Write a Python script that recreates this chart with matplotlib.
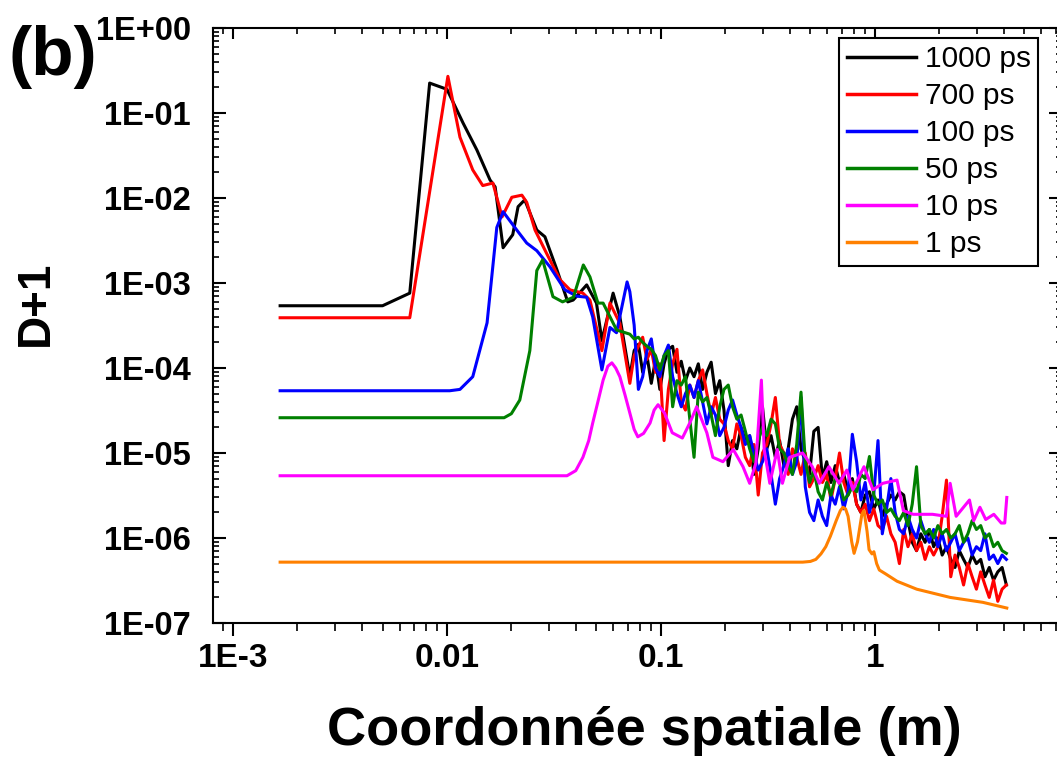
import matplotlib
matplotlib.use('Agg')
import matplotlib.pyplot as plt
from matplotlib.ticker import LogLocator, NullFormatter, FixedLocator, FixedFormatter

# ---------------- data ----------------
series_labels = ['1000 ps', '700 ps', '100 ps', '50 ps', '10 ps', '1 ps']
series_colors = ['#000000', '#ff0000', '#0000ff', '#008000', '#ff00ff', '#ff8000']

# common spatial grid of the noisy tail (0.07 m -> 4.1 m)
tail_x = [0.0716, 0.0750, 0.0785, 0.0822, 0.0861, 0.0902, 0.0944, 0.0989, 0.1035, 0.1084,
          0.1135, 0.1189, 0.1245, 0.1303, 0.1365, 0.1429, 0.1496, 0.1567, 0.1641, 0.1718,
          0.1799, 0.1884, 0.1972, 0.2065, 0.2163, 0.2265, 0.2371, 0.2483, 0.2600, 0.2723,
          0.2851, 0.2985, 0.3126, 0.3273, 0.3428, 0.3589, 0.3758, 0.3936, 0.4121, 0.4315,
          0.4519, 0.4732, 0.4955, 0.5188, 0.5433, 0.5689, 0.5957, 0.6237, 0.6531, 0.6839,
          0.7161, 0.7499, 0.7852, 0.8222, 0.8610, 0.9016, 0.9441, 0.9886, 1.035, 1.084,
          1.135, 1.189, 1.245, 1.303, 1.365, 1.429, 1.496, 1.567, 1.641, 1.718,
          1.799, 1.884, 1.972, 2.065, 2.163, 2.265, 2.371, 2.483, 2.600, 2.723,
          2.851, 2.985, 3.126, 3.273, 3.428, 3.589, 3.758, 3.936, 4.121]

black_head_x = [1.66e-3, 5.0e-3, 6.7e-3, 8.3e-3, 0.0100, 0.0119, 0.0138, 0.0159, 0.0168, 0.0183,
                0.0203, 0.0215, 0.0231, 0.0263, 0.0287, 0.0327, 0.0367, 0.0389, 0.045, 0.050,
                0.053, 0.0598, 0.0643]
black_head_y = [5.4e-4, 5.4e-4, 7.6e-4, 0.225, 0.19, 0.076, 0.0367, 0.0163, 0.0135, 2.6e-3,
                3.7e-3, 7.9e-3, 9.5e-3, 4.2e-3, 3.5e-3, 1.42e-3, 6.0e-4, 6.3e-4, 9.5e-4, 5.8e-4,
                2.1e-4, 7.6e-4, 4.0e-4]
black_tail_y = [7.9e-5, 1.6e-4, 1.9e-4, 8.9e-5, 1.4e-4, 6.6e-5, 1.26e-4, 5.6e-5, 1.12e-4, 1.66e-4,
                1.8e-4, 8.9e-5, 1.2e-4, 7.1e-5, 1.0e-4, 7.9e-5, 1.12e-4, 5.6e-5, 8.9e-5, 1.17e-4,
                5.0e-5, 7.1e-5, 3.2e-5, 7.1e-6, 1.4e-5, 1.12e-5, 2.0e-5, 1.4e-5, 1.6e-5, 5.6e-6,
                1.12e-5, 3.5e-5, 1.12e-5, 1.6e-5, 8.9e-6, 1.4e-5, 7.1e-6, 1.12e-5, 2.5e-5, 3.5e-5,
                1.12e-5, 7.9e-6, 5.6e-6, 1.8e-5, 2.0e-5, 5.0e-6, 7.9e-6, 4.5e-6, 7.1e-6, 4.5e-6,
                5.6e-6, 3.5e-6, 5.0e-6, 2.5e-6, 2.0e-6, 3.2e-6, 3.5e-6, 2.2e-6, 2.8e-6, 1.8e-6,
                2.5e-6, 3.2e-6, 2.8e-6, 3.5e-6, 3.2e-6, 1.6e-6, 8.9e-7, 7.1e-7, 1.12e-6, 8.9e-7,
                1.26e-6, 7.9e-7, 1.0e-6, 6.3e-7, 7.9e-7, 5.6e-7, 4.5e-7, 7.1e-7, 5.6e-7, 4.5e-7,
                6.3e-7, 5.0e-7, 5.6e-7, 3.5e-7, 4.5e-7, 3.2e-7, 4.0e-7, 4.5e-7, 2.8e-7]

red_head_x = [1.66e-3, 6.7e-3, 0.0101, 0.0115, 0.0132, 0.0147, 0.0164, 0.0181, 0.0201, 0.0224,
              0.0236, 0.0258, 0.0293, 0.0337, 0.0376, 0.0432, 0.0466, 0.053, 0.0578, 0.0643]
red_head_y = [3.9e-4, 3.9e-4, 0.27, 0.052, 0.0214, 0.014, 0.015, 6.0e-3, 0.0102, 0.0108,
              8.9e-3, 4.2e-3, 2.2e-3, 1.1e-3, 8.3e-4, 7.6e-4, 6.3e-4, 1.6e-4, 5.8e-4, 3.35e-4]
red_tail_y = [6.6e-5, 1.4e-4, 1.8e-4, 2.3e-4, 1.26e-4, 1.66e-4, 8.9e-5, 1.12e-4, 1.4e-5, 5.6e-5,
              1.12e-4, 1.66e-4, 4.0e-5, 3.2e-5, 6.3e-5, 4.5e-5, 7.1e-5, 9.5e-5, 5.0e-5, 2.8e-5,
              4.5e-5, 2.5e-5, 2.2e-5, 1.4e-5, 1.12e-5, 2.2e-5, 1.6e-5, 8.9e-6, 7.1e-6, 1.26e-5,
              3.2e-6, 1.0e-5, 1.26e-5, 2.2e-5, 4.5e-5, 1.26e-5, 1.0e-5, 5.6e-6, 1.12e-5, 8.9e-6,
              5.6e-6, 1.0e-5, 4.0e-6, 5.0e-6, 7.1e-6, 4.5e-6, 5.6e-6, 2.8e-6, 5.0e-6, 1.0e-5,
              4.5e-6, 3.2e-6, 4.5e-6, 2.5e-6, 2.0e-6, 2.5e-6, 1.6e-6, 2.2e-6, 1.4e-6, 1.26e-6,
              1.8e-6, 1.12e-6, 8.9e-7, 5.0e-7, 1.26e-6, 7.9e-7, 1.12e-6, 7.1e-7, 8.9e-7, 5.6e-7,
              7.9e-7, 6.3e-7, 7.9e-7, 1.8e-6, 4.8e-6, 3.5e-7, 6.3e-7, 4.5e-7, 2.8e-7, 5.0e-7,
              3.5e-7, 2.5e-7, 4.0e-7, 2.8e-7, 2.0e-7, 3.2e-7, 1.8e-7, 2.5e-7, 2.8e-7]

blue_head_x = [1.66e-3, 0.0103, 0.0115, 0.0132, 0.0154, 0.0171, 0.0183, 0.0212, 0.0236, 0.0263,
               0.0303, 0.0356, 0.0405, 0.045, 0.048, 0.053, 0.0578, 0.062, 0.0695]
blue_head_y = [5.4e-5, 5.4e-5, 5.6e-5, 7.9e-5, 3.4e-4, 4.5e-3, 6.9e-3, 4.2e-3, 2.95e-3, 2.4e-3,
               1.55e-3, 8.3e-4, 7.0e-4, 6.8e-4, 4.0e-4, 9.5e-5, 3.0e-4, 2.6e-4, 1.03e-3]
blue_tail_y = [7.9e-4, 3.2e-4, 5.6e-5, 7.9e-5, 1.6e-4, 2.2e-4, 1.0e-4, 7.9e-5, 1.4e-4, 1.86e-4,
               7.9e-5, 5.0e-5, 3.5e-5, 5.0e-5, 6.3e-5, 4.5e-5, 7.1e-5, 4.0e-5, 2.2e-5, 3.5e-5,
               2.8e-5, 1.6e-5, 2.0e-5, 3.2e-5, 4.2e-5, 2.8e-5, 2.0e-5, 1.26e-5, 1.6e-5, 1.0e-5,
               6.3e-6, 7.9e-6, 1.12e-5, 5.6e-6, 2.5e-6, 5.0e-6, 7.1e-6, 1.12e-5, 5.6e-6, 7.9e-6,
               4.5e-5, 4.0e-6, 2.0e-6, 1.6e-6, 2.8e-6, 1.8e-6, 1.4e-6, 3.2e-6, 2.5e-6, 4.0e-6,
               2.2e-6, 3.5e-6, 1.66e-5, 7.9e-6, 2.8e-6, 4.5e-6, 2.0e-6, 3.2e-6, 1.4e-5, 1.12e-6,
               2.2e-6, 5.0e-6, 2.0e-6, 1.26e-6, 1.12e-6, 1.8e-6, 1.26e-6, 1.0e-6, 1.6e-6, 1.12e-6,
               8.9e-7, 1.26e-6, 7.9e-7, 1.12e-6, 7.1e-7, 8.9e-7, 1.12e-6, 7.1e-7, 8.9e-7, 1.0e-6,
               6.3e-7, 7.9e-7, 7.1e-7, 1.12e-6, 5.6e-7, 6.3e-7, 5.0e-7, 6.3e-7, 5.6e-7]

green_head_x = [1.66e-3, 0.0185, 0.0200, 0.0219, 0.0244, 0.0263, 0.0280, 0.0313, 0.0347, 0.0390,
                0.0434, 0.0466, 0.0508, 0.0537, 0.0621]
green_head_y = [2.6e-5, 2.6e-5, 2.9e-5, 4.2e-5, 1.6e-4, 1.4e-3, 1.87e-3, 6.9e-4, 6.0e-4, 6.8e-4,
                1.63e-3, 1.18e-3, 5.8e-4, 5.8e-4, 2.8e-4]
green_tail_y = [2.5e-4, 2.2e-4, 2.3e-4, 2.0e-4, 1.8e-4, 1.66e-4, 1.4e-4, 9.5e-5, 1.4e-4, 1.6e-4,
                3.5e-5, 7.1e-5, 6.3e-5, 7.9e-5, 2.5e-5, 8.9e-6, 5.2e-5, 4.0e-5, 4.5e-5, 2.8e-5,
                1.6e-5, 3.5e-5, 5.6e-5, 6.3e-5, 3.5e-5, 2.5e-5, 2.8e-5, 1.8e-5, 1.12e-5, 7.9e-6,
                1.4e-5, 2.0e-5, 1.6e-5, 2.5e-5, 2.2e-5, 1.12e-5, 1.0e-5, 7.1e-6, 5.6e-6, 1.26e-5,
                5.2e-5, 7.9e-6, 4.5e-6, 6.3e-6, 3.5e-6, 2.8e-6, 4.5e-6, 3.2e-6, 5.0e-6, 4.5e-6,
                2.8e-6, 3.2e-6, 4.0e-6, 3.5e-6, 5.6e-6, 5.0e-6, 9.1e-6, 3.2e-6, 2.5e-6, 2.8e-6,
                2.0e-6, 2.2e-6, 1.8e-6, 1.6e-6, 2.0e-6, 1.4e-6, 2.5e-6, 6.9e-6, 1.4e-6, 1.12e-6,
                1.26e-6, 1.0e-6, 1.4e-6, 1.12e-6, 1.26e-6, 1.0e-6, 1.12e-6, 1.4e-6, 8.9e-7, 1.12e-6,
                1.6e-6, 1.26e-6, 1.4e-6, 1.0e-6, 1.12e-6, 7.9e-7, 8.9e-7, 7.1e-7, 6.6e-7]

magenta_x = [1.66e-3, 0.0364, 0.0400, 0.0432, 0.0460, 0.0480, 0.0510, 0.0537, 0.0565, 0.0590,
             0.0615, 0.0643, 0.0680, 0.0716, 0.0750, 0.0780, 0.0830, 0.0890, 0.0930, 0.0970,
             0.104, 0.113, 0.126, 0.137, 0.147, 0.164, 0.175, 0.195, 0.218, 0.242,
             0.260, 0.278, 0.295, 0.304, 0.323, 0.350, 0.370, 0.400, 0.460, 0.510,
             0.550, 0.610, 0.680, 0.740, 0.790, 0.890, 0.980, 1.09, 1.27, 1.36,
             1.51, 1.86, 2.16, 2.25, 2.40, 2.77, 2.90, 3.10, 3.30, 3.60,
             3.90, 4.05, 4.14]
magenta_y = [5.4e-6, 5.4e-6, 6.2e-6, 8.9e-6, 1.4e-5, 2.25e-5, 4.2e-5, 7.2e-5, 1.05e-4, 1.15e-4,
             1.0e-4, 7.9e-5, 4.8e-5, 2.95e-5, 1.9e-5, 1.55e-5, 1.7e-5, 2.25e-5, 3.2e-5, 3.7e-5,
             2.95e-5, 1.73e-5, 1.5e-5, 2.3e-5, 3.5e-5, 1.73e-5, 8.9e-6, 7.9e-6, 1.1e-5, 6.9e-6,
             4.4e-6, 7.6e-6, 7.2e-5, 1.1e-5, 4.4e-6, 1.1e-5, 4.4e-6, 8.9e-6, 1.0e-5, 6.9e-6,
             4.4e-6, 6.9e-6, 4.4e-6, 6.3e-6, 3.7e-6, 6.9e-6, 3.7e-6, 4.4e-6, 4.8e-6, 2.1e-6,
             1.9e-6, 1.9e-6, 1.8e-6, 4.4e-6, 1.8e-6, 2.8e-6, 1.6e-6, 2.3e-6, 1.65e-6, 1.9e-6,
             1.5e-6, 1.5e-6, 3.0e-6]

orange_x = [1.66e-3, 0.46, 0.50, 0.53, 0.56, 0.59, 0.62, 0.66, 0.69, 0.71,
            0.73, 0.75, 0.78, 0.80, 0.83, 0.87, 0.89, 0.92, 0.94, 0.97,
            0.99, 1.02, 1.05, 1.12, 1.27, 1.57, 2.25, 3.2, 4.14]
orange_y = [5.2e-7, 5.2e-7, 5.3e-7, 5.6e-7, 6.5e-7, 7.9e-7, 1.05e-6, 1.6e-6, 2.1e-6, 2.3e-6,
            2.2e-6, 1.8e-6, 9.0e-7, 6.6e-7, 9.0e-7, 1.9e-6, 2.1e-6, 1.2e-6, 7.3e-7, 6.5e-7,
            6.9e-7, 5.0e-7, 4.2e-7, 3.8e-7, 3.1e-7, 2.5e-7, 2.0e-7, 1.75e-7, 1.5e-7]

x_major = [1e-3, 1e-2, 1e-1, 1.0]
x_major_labels = ['1E-3', '0.01', '0.1', '1']
y_major = [1e-7, 1e-6, 1e-5, 1e-4, 1e-3, 1e-2, 1e-1, 1.0]
y_major_labels = ['1E-07', '1E-06', '1E-05', '1E-04', '1E-03', '1E-02', '1E-01', '1E+00']

# ---------------- figure ----------------
W, H = 1057, 760
fig = plt.figure(figsize=(W / 100, H / 100), dpi=100)
L, R, T, B = 213, 1062, 28, 623
ax = fig.add_axes([L / W, 1 - B / H, (R - L) / W, (B - T) / H])

all_x = [black_head_x + tail_x, red_head_x + tail_x, blue_head_x + tail_x,
         green_head_x + tail_x, magenta_x, orange_x]
all_y = [black_head_y + black_tail_y, red_head_y + red_tail_y, blue_head_y + blue_tail_y,
         green_head_y + green_tail_y, magenta_y, orange_y]
for xs, ys, c, lab in zip(all_x, all_y, series_colors, series_labels):
    ax.plot(xs, ys, color=c, lw=2.2, label=lab)

ax.set_xscale('log')
ax.set_yscale('log')
ax.set_xlim(8.06e-4, 7.5)
ax.set_ylim(1e-7, 1.0)

for s in ax.spines.values():
    s.set_linewidth(1.5)

ax.xaxis.set_major_locator(FixedLocator(x_major))
ax.xaxis.set_major_formatter(FixedFormatter(x_major_labels))
ax.xaxis.set_minor_locator(LogLocator(base=10, subs=range(2, 10), numticks=50))
ax.xaxis.set_minor_formatter(NullFormatter())
ax.yaxis.set_major_locator(FixedLocator(y_major))
ax.yaxis.set_major_formatter(FixedFormatter(y_major_labels))
ax.yaxis.set_minor_locator(LogLocator(base=10, subs=range(2, 10), numticks=50))
ax.yaxis.set_minor_formatter(NullFormatter())

ax.tick_params(axis='x', which='major', direction='out', length=9.5, width=1.5, pad=5,
               top=False, bottom=True)
ax.tick_params(axis='x', which='minor', direction='out', length=5.5, width=1.2,
               top=False, bottom=True)
ax.tick_params(axis='y', which='major', direction='in', length=9.5, width=1.5, pad=16,
               left=True, right=True)
ax.tick_params(axis='y', which='minor', direction='in', length=4.5, width=1.2,
               left=True, right=True)
for lbl in ax.get_xticklabels():
    lbl.set_fontfamily(['Liberation Sans', 'DejaVu Sans'])
    lbl.set_fontweight('bold')
    lbl.set_fontsize(24)
for lbl in ax.get_yticklabels():
    lbl.set_fontfamily(['Liberation Sans', 'DejaVu Sans'])
    lbl.set_fontweight('bold')
    lbl.set_fontsize(23.5)

# top axis ticks pointing inward
top = ax.twiny()
top.set_xscale('log')
top.set_xlim(ax.get_xlim())
top.xaxis.set_major_locator(FixedLocator(x_major))
top.xaxis.set_minor_locator(LogLocator(base=10, subs=range(2, 10), numticks=50))
top.xaxis.set_minor_formatter(NullFormatter())
top.tick_params(axis='x', which='major', direction='in', length=8, width=1.5,
                labeltop=False, top=True)
top.tick_params(axis='x', which='minor', direction='in', length=4, width=1.2, top=True)
for s in top.spines.values():
    s.set_visible(False)

# axis labels
fig.text(644 / W, 1 - 745 / H, 'Coordonnée spatiale (m)', ha='center', va='baseline',
         family=['Liberation Sans'], weight='bold', fontsize=39)
fig.text(36 / W, 1 - 303 / H, 'D+1', rotation=90, ha='center', va='center',
         family=['Liberation Sans'], weight='bold', fontsize=33)
fig.text(8 / W, 1 - 57 / H, '(b)', ha='left', va='center',
         family=['Liberation Sans'], weight='bold', fontsize=50)

leg = ax.legend(loc='upper right', bbox_to_anchor=(1038 / W, 1 - 38 / H),
                bbox_transform=fig.transFigure, borderaxespad=0,
                prop=dict(family='Liberation Sans', size=21.5),
                frameon=True, fancybox=False, framealpha=1, edgecolor='black',
                handlelength=2.3, handletextpad=0.3, labelspacing=0.3, borderpad=0.25)
leg.get_frame().set_linewidth(1.5)
for ln in leg.get_lines():
    ln.set_linewidth(2.5)

fig.savefig('out.png', dpi=100)
